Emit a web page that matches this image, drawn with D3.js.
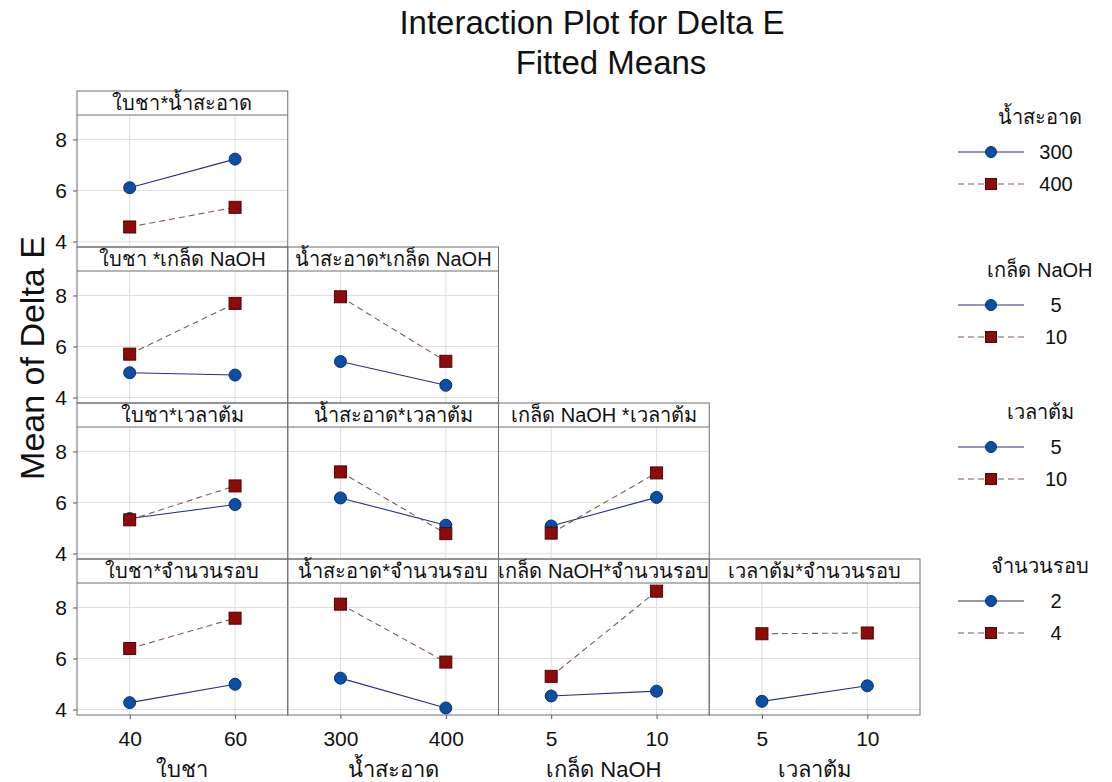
<!DOCTYPE html>
<html lang="th">
<head>
    <meta charset="UTF-8">
    <title>Interaction Plot for Delta E</title>
    <style>
        body {
            background-color: #ffffff;
            margin: 0;
            overflow: hidden;
            font-family: "Liberation Sans", Arial, sans-serif;
        }
        svg text {
            fill: #111;
        }
        .grid line {
            stroke: #dedede;
            stroke-width: 1;
        }
        .frame {
            fill: none;
            stroke: #6e6e6e;
            stroke-width: 1;
        }
    </style>
</head>
<body>
    <svg id="chart" width="1112" height="782"></svg>

    <script src="https://d3js.org/d3.v7.min.js"></script>
    <script>
        // factors and their two levels
        const factors = ["ใบชา", "น้ำสะอาด", "เกล็ด NaOH", "เวลาต้ม", "จำนวนรอบ"];
        const levels = [[40, 60], [300, 400], [5, 10], [5, 10], [2, 4]];
        const yTicks = [4, 6, 8];

        // panels: row = trace factor index - 1, col = x factor index
        const panelRows = [1, 2, 2, 3, 3, 3, 4, 4, 4, 4];
        const panelCols = [0, 0, 1, 0, 1, 2, 0, 1, 2, 3];
        const panelTitles = [
            "ใบชา*น้ำสะอาด",
            "ใบชา *เกล็ด NaOH", "น้ำสะอาด*เกล็ด NaOH",
            "ใบชา*เวลาต้ม", "น้ำสะอาด*เวลาต้ม", "เกล็ด NaOH *เวลาต้ม",
            "ใบชา*จำนวนรอบ", "น้ำสะอาด*จำนวนรอบ", "เกล็ด NaOH*จำนวนรอบ", "เวลาต้ม*จำนวนรอบ"
        ];
        // fitted means at low / high x level, for low trace level (blue) and high (red)
        const meansLow = [
            [6.11, 7.23],
            [4.97, 4.88], [5.41, 4.48],
            [5.37, 5.92], [6.18, 5.11], [5.08, 6.20],
            [4.27, 4.99], [5.23, 4.06], [4.53, 4.72], [4.32, 4.93]
        ];
        const meansHigh = [
            [4.57, 5.34],
            [5.70, 7.69], [7.95, 5.42],
            [5.32, 6.65], [7.20, 4.78], [4.80, 7.16],
            [6.39, 7.58], [8.13, 5.86], [5.30, 8.64], [6.97, 7.00]
        ];

        const svg = d3.select("#chart");

        const leftX = 77, colW = 210.75, topY = 91, rowH = 156, stripH = 24;
        const yDomain = [3.785, 8.96];

        const blue = { fill: "#0a4fa6", stroke: "#0b2f6b", line: "#283278", dash: null };
        const red = { fill: "#8c0b0b", stroke: "#4e0505", line: "#7f5b5b", dash: "6,4" };

        // titles
        svg.append("text").attr("x", 592).attr("y", 34)
            .attr("text-anchor", "middle").style("font-size", "33px")
            .text("Interaction Plot for Delta E");
        svg.append("text").attr("x", 611).attr("y", 74)
            .attr("text-anchor", "middle").style("font-size", "33px")
            .text("Fitted Means");
        svg.append("text")
            .attr("transform", "translate(44,358) rotate(-90)")
            .attr("text-anchor", "middle").style("font-size", "34px")
            .text("Mean of Delta E");

        function xScaleFor(c) {
            const lv = levels[c], step = lv[1] - lv[0];
            return d3.scaleLinear()
                .domain([lv[0] - step / 2, lv[1] + step / 2])
                .range([leftX + c * colW, leftX + (c + 1) * colW]);
        }
        function yScaleFor(r) {
            const rt = topY + (r - 1) * rowH;
            return d3.scaleLinear().domain(yDomain).range([rt + rowH, rt + stripH]);
        }

        panelTitles.forEach((title, i) => {
            const r = panelRows[i], c = panelCols[i];
            const x = xScaleFor(c), y = yScaleFor(r);
            const x0 = x.range()[0], x1 = x.range()[1];
            const y0 = y.range()[1], y1 = y.range()[0];
            const g = svg.append("g");

            const grid = g.append("g").attr("class", "grid");
            grid.selectAll(".gx").data(levels[c]).enter().append("line")
                .attr("x1", d => x(d)).attr("x2", d => x(d))
                .attr("y1", y0).attr("y2", y1);
            grid.selectAll(".gy").data(yTicks).enter().append("line")
                .attr("x1", x0).attr("x2", x1)
                .attr("y1", d => y(d)).attr("y2", d => y(d));

            // series
            [[meansLow[i], blue], [meansHigh[i], red]].forEach(([vals, st]) => {
                const pts = vals.map((v, k) => [x(levels[c][k]), y(v)]);
                g.append("path")
                    .attr("d", d3.line()(pts))
                    .attr("fill", "none")
                    .attr("stroke", st.line)
                    .attr("stroke-width", 1.1)
                    .attr("stroke-dasharray", st.dash);
            });
            const redPts = meansHigh[i].map((v, k) => [x(levels[c][k]), y(v)]);
            const bluePts = meansLow[i].map((v, k) => [x(levels[c][k]), y(v)]);
            g.selectAll(".dot").data(bluePts).enter().append("circle")
                .attr("cx", d => d[0]).attr("cy", d => d[1]).attr("r", 6)
                .attr("fill", blue.fill).attr("stroke", blue.stroke).attr("stroke-width", 1);
            g.selectAll(".sq").data(redPts).enter().append("rect")
                .attr("x", d => d[0] - 6).attr("y", d => d[1] - 6)
                .attr("width", 12).attr("height", 12)
                .attr("fill", red.fill).attr("stroke", red.stroke).attr("stroke-width", 1);

            // strip + frame
            g.append("rect").attr("class", "frame")
                .attr("x", x0).attr("y", y0 - stripH)
                .attr("width", x1 - x0).attr("height", y1 - y0 + stripH);
            g.append("line")
                .attr("x1", x0).attr("x2", x1).attr("y1", y0).attr("y2", y0)
                .attr("stroke", "#6e6e6e");
            g.append("text")
                .attr("x", (x0 + x1) / 2).attr("y", y0 - 5)
                .attr("text-anchor", "middle").style("font-size", "20px")
                .text(title);

            // left axis for first column
            if (c === 0) {
                const ax = g.append("g")
                    .attr("transform", `translate(${x0},0)`)
                    .call(d3.axisLeft(y).tickValues(yTicks).tickFormat(d3.format("d"))
                        .tickSize(4).tickPadding(6));
                ax.select(".domain").remove();
                ax.selectAll("line").attr("stroke", "#555");
                ax.selectAll("text").style("font-size", "21px").attr("fill", "#111");
            }
            // bottom axis on last row
            if (r === 4) {
                const bx = g.append("g")
                    .attr("transform", `translate(0,${y1})`)
                    .call(d3.axisBottom(x).tickValues(levels[c]).tickSize(4).tickPadding(12));
                bx.select(".domain").remove();
                bx.selectAll("line").attr("stroke", "#555");
                bx.selectAll("text").style("font-size", "21px").attr("fill", "#111");
                svg.append("text")
                    .attr("x", (x0 + x1) / 2).attr("y", 777)
                    .attr("text-anchor", "middle").style("font-size", "22px")
                    .text(factors[c]);
            }
        });

        // legends, one per trace factor
        const legendTop = [118, 271, 413, 567];
        factors.slice(1).forEach((f, k) => {
            const ty = legendTop[k];
            const lg = svg.append("g");
            lg.append("text").attr("x", 1040).attr("y", ty + 6)
                .attr("text-anchor", "middle").style("font-size", "20px").text(f);
            [blue, red].forEach((st, j) => {
                const iy = ty + 34 + j * 32;
                lg.append("line").attr("x1", 958).attr("x2", 1024)
                    .attr("y1", iy).attr("y2", iy)
                    .attr("stroke", st.line).attr("stroke-width", 1.1)
                    .attr("stroke-dasharray", st.dash);
                if (j === 0) {
                    lg.append("circle").attr("cx", 991).attr("cy", iy).attr("r", 5.5)
                        .attr("fill", st.fill).attr("stroke", st.stroke);
                } else {
                    lg.append("rect").attr("x", 985.5).attr("y", iy - 5.5)
                        .attr("width", 11).attr("height", 11)
                        .attr("fill", st.fill).attr("stroke", st.stroke);
                }
                lg.append("text").attr("x", 1056).attr("y", iy + 7)
                    .attr("text-anchor", "middle").style("font-size", "20px")
                    .text(levels[k + 1][j]);
            });
        });
    </script>
</body>
</html>
